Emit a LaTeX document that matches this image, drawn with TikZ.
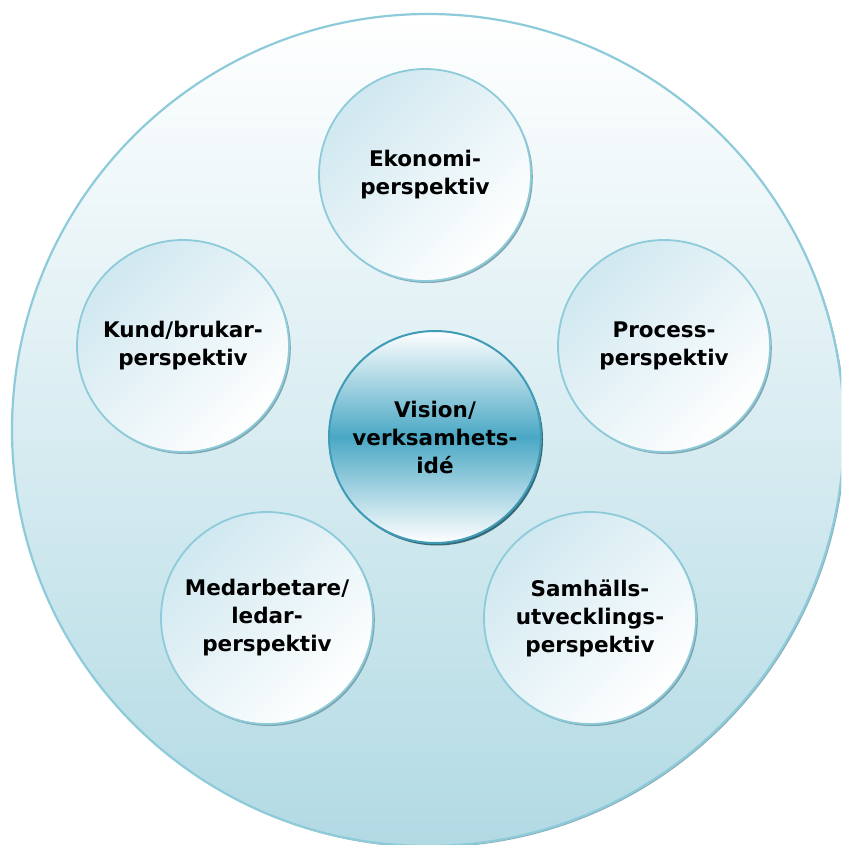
\documentclass[tikz,border=0pt]{standalone}
\usepackage{fontspec}
\setmainfont{DejaVu Sans}
\usetikzlibrary{shadows}

\definecolor{rim}{HTML}{8ECBDA}
\definecolor{rimdark}{HTML}{3F9BB6}
\definecolor{paleblue}{HTML}{D0E8F0}
\definecolor{floorblue}{HTML}{B2DAE4}
\definecolor{coreblue}{HTML}{4AA8C5}
\definecolor{rimshadow}{HTML}{6A95A2}

\begin{document}
\begin{tikzpicture}[x=1pt, y=-1pt,
        outer/.style={circle, draw=rim, line width=2.2pt, top color=white, bottom color=floorblue, minimum size=832pt,
            drop shadow={shadow xshift=1.5pt, shadow yshift=-1.5pt, fill=rimshadow, opacity=0.8}},
        persp/.style={circle, draw=rim, line width=1.8pt, top color=paleblue, bottom color=white, shading angle=45,
            minimum size=212pt, inner sep=0pt, align=center, font=\fontsize{21.5}{28}\selectfont\bfseries,
            drop shadow={shadow xshift=1.8pt, shadow yshift=-2pt, fill=rimshadow, opacity=0.8}},
        core/.style={circle, draw=rimdark, line width=2pt, top color=white, bottom color=white, middle color=coreblue,
            minimum size=212pt, inner sep=0pt, align=center, font=\fontsize{21.5}{28}\selectfont\bfseries,
            drop shadow={shadow xshift=2pt, shadow yshift=-2.5pt, fill=rimdark!60!black, opacity=0.9}}
    ]
    \useasboundingbox (0,0) rectangle (841,845);
    \clip (0,0) rectangle (841,845);

    \node[outer]  (ring)   at (428,430) {};

    \node[persp]  (eko)    at (425,175) {Ekonomi-\\perspektiv};
    \node[persp]  (kund)   at (183,346) {Kund/brukar-\\perspektiv};
    \node[persp]  (proc)   at (664,346) {Process-\\perspektiv};
    \node[persp]  (med)    at (267,618) {Medarbetare/\\ledar-\\perspektiv};
    \node[persp]  (samh)   at (590,618) {Samhälls-\\utvecklings-\\perspektiv};

    \node[core]   (vision) at (435,437) {Vision/\\verksamhets-\\idé};
\end{tikzpicture}
\end{document}
